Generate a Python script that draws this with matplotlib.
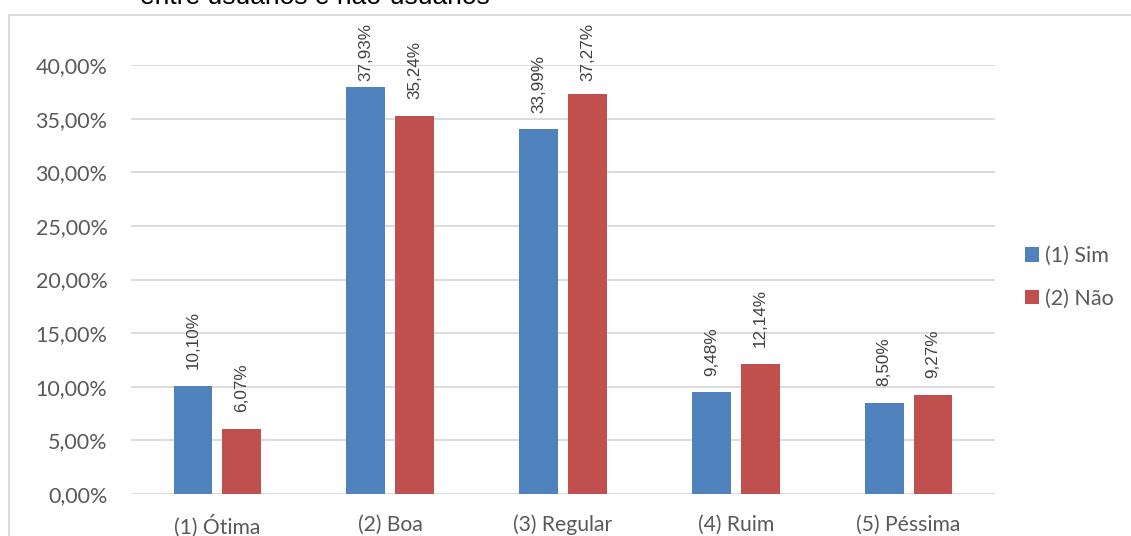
import matplotlib
matplotlib.use("Agg")
import matplotlib.pyplot as plt
from matplotlib.patches import Rectangle, Patch

categories = ["(1) Ótima", "(2) Boa", "(3) Regular", "(4) Ruim", "(5) Péssima"]
series_names = ["(1) Sim", "(2) Não"]
sim_values = [10.10, 37.93, 33.99, 9.48, 8.50]
nao_values = [6.07, 35.24, 37.27, 12.14, 9.27]
y_ticks = [0, 5, 10, 15, 20, 25, 30, 35, 40]
title_text = "entre usuários e não-usuários"

BLUE = "#4F81BD"
RED = "#C0504D"
GRID = "#D9D9D9"
TICK_COLOR = "#595959"
LABEL_COLOR = "#404040"
TICK_FONT = "Lato"
LABEL_FONT = "Liberation Sans"

W, H = 1131, 536
fig = plt.figure(figsize=(W / 100, H / 100), dpi=100)
fig.patch.set_facecolor("white")

# plot area in pixel terms
left_px, right_px, top_px, bottom_px = 131, 995, 65, 494
ax = fig.add_axes([left_px / W, 1 - bottom_px / H,
                   (right_px - left_px) / W, (bottom_px - top_px) / H])

# chart-area frame (runs off the right and bottom edges)
fig.patches.append(Rectangle((8.5 / W, -0.1), 1.2, 1 - 15 / H + 0.1,
                             transform=fig.transFigure, fill=False,
                             edgecolor=GRID, linewidth=1.3, clip_on=False))

# cut-off caption at the top
fig.text(140 / W, 1 - 4.5 / H, title_text, fontsize=19, family=LABEL_FONT,
         color="black", ha="left", va="baseline")

bar_w = 0.225
offset = bar_w / 2 + 0.029
xs = list(range(len(categories)))
bars_sim = ax.bar([x - offset for x in xs], sim_values, width=bar_w,
                  color=BLUE, zorder=3)
bars_nao = ax.bar([x + offset for x in xs], nao_values, width=bar_w,
                  color=RED, zorder=3)

ax.set_xlim(-0.5, len(categories) - 0.5)
ax.set_ylim(0, 40)
ax.set_yticks(y_ticks)
ax.set_yticklabels([f"{v:.2f}%".replace(".", ",") for v in y_ticks])
ax.set_xticks(xs)
ax.set_xticklabels(categories)
ax.grid(axis="y", color=GRID, linewidth=1.3, zorder=0)
ax.set_axisbelow(True)
for s in ax.spines.values():
    s.set_visible(False)
ax.tick_params(axis="both", length=0, colors=TICK_COLOR, labelsize=15.5)
ax.tick_params(axis="y", pad=17)
ax.tick_params(axis="x", pad=15, labelsize=15.2)
for lbl in ax.get_xticklabels() + ax.get_yticklabels():
    lbl.set_family(TICK_FONT)

# value labels, rotated above each bar
labels = []
for bars, vals in ((bars_sim, sim_values), (bars_nao, nao_values)):
    for b, v in zip(bars, vals):
        t = ax.annotate(f"{v:.2f}%".replace(".", ","),
                        xy=(b.get_x() + b.get_width() / 2, v),
                        xytext=(0, 12), textcoords="offset points",
                        rotation=90, ha="center", va="bottom",
                        fontsize=12.3, family=LABEL_FONT, color=LABEL_COLOR,
                        annotation_clip=False)
        labels.append(t)

# keep labels inside the chart frame
fig.canvas.draw()
renderer = fig.canvas.get_renderer()
ceiling = H - 23
for t in labels:
    bb = t.get_window_extent(renderer)
    if bb.y1 > ceiling:
        dy_pt = (bb.y1 - ceiling) * 72 / fig.dpi
        x0, y0 = t.xyann
        t.xyann = (x0, y0 - dy_pt)

handles = [Patch(facecolor=BLUE), Patch(facecolor=RED)]
fig.legend(handles, series_names, loc="upper left",
           bbox_to_anchor=(1025 / W, 1 - 246 / H), frameon=False,
           prop={"family": TICK_FONT, "size": 15.5},
           labelcolor=TICK_COLOR, handlelength=0.65, handleheight=0.65,
           handletextpad=0.3, labelspacing=1.05, borderaxespad=0, borderpad=0)

fig.savefig("out.png", dpi=100, facecolor="white")
